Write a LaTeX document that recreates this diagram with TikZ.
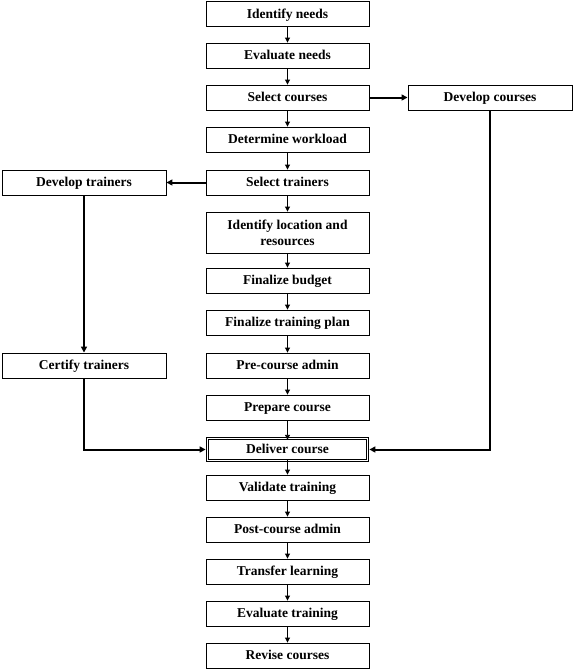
\documentclass[tikz,border=0pt]{standalone}
\usepackage{fontspec}
\setmainfont{Liberation Serif}
\usetikzlibrary{arrows.meta}
\begin{document}
\begin{tikzpicture}[x=1pt,y=-1pt,
  basebox/.style={draw,line width=0.9pt,minimum width=163pt,minimum height=25pt,inner sep=0pt,
    font=\fontsize{13.5}{16}\selectfont\bfseries,align=center},
  box/.style={basebox,text height=10pt,text depth=2pt},
  flow/.style={line width=0.9pt,-{Triangle[length=5pt,width=5pt]}},
  side/.style={line width=2pt,-{Triangle[length=6pt,width=6pt]}}]
\useasboundingbox (0,0) rectangle (573,670);
\node[box] (id) at (287.5,14) {Identify needs};
\node[box] (ev) at (287.5,55.5) {Evaluate needs};
\node[box] (sc) at (287.5,97.5) {Select courses};
\node[box] (dw) at (287.5,139.5) {Determine workload};
\node[box] (st) at (287.5,182.5) {Select trainers};
\node[basebox,minimum height=41pt] (il) at (287.5,232.5) {Identify location and\\resources};
\node[box] (fb) at (287.5,280.5) {Finalize budget};
\node[box] (fp) at (287.5,322.5) {Finalize training plan};
\node[box] (pc) at (287.5,365.5) {Pre-course admin};
\node[box] (pr) at (287.5,407.5) {Prepare course};
\node[box,double,double distance=1.6pt,line width=0.8pt,minimum width=159.8pt,minimum height=21.8pt] (dc) at (287.5,449.5) {Deliver course};
\node[box] (vt) at (287.5,487.5) {Validate training};
\node[box] (pa) at (287.5,529.5) {Post-course admin};
\node[box] (tl) at (287.5,571.5) {Transfer learning};
\node[box] (et) at (287.5,613.5) {Evaluate training};
\node[box] (rc) at (287.5,655.5) {Revise courses};
\node[box,minimum width=164pt] (dcs) at (490,97.5) {Develop courses};
\node[box,minimum width=164pt] (dt) at (84,182.5) {Develop trainers};
\node[box,minimum width=164pt] (ct) at (84,365.5) {Certify trainers};
\foreach \a/\b in {id/ev,ev/sc,sc/dw,dw/st,st/il,il/fb,fb/fp,fp/pc,pc/pr,vt/pa,pa/tl,tl/et,et/rc}
  \draw[flow] (\a) -- (\b);
\draw[flow] (pr.south) -- ([yshift=-1.6pt]dc.north);
\draw[flow] ([yshift=1.6pt]dc.south) -- (vt.north);
\draw[side] (sc.east) -- (dcs.west);
\draw[side] (st.west) -- (dt.east);
\draw[side] (dt.south) -- (ct.north);
\draw[side] (ct.south) |- ([xshift=-1.6pt]dc.west);
\draw[side] (dcs.south) |- ([xshift=1.6pt]dc.east);
\end{tikzpicture}
\end{document}
